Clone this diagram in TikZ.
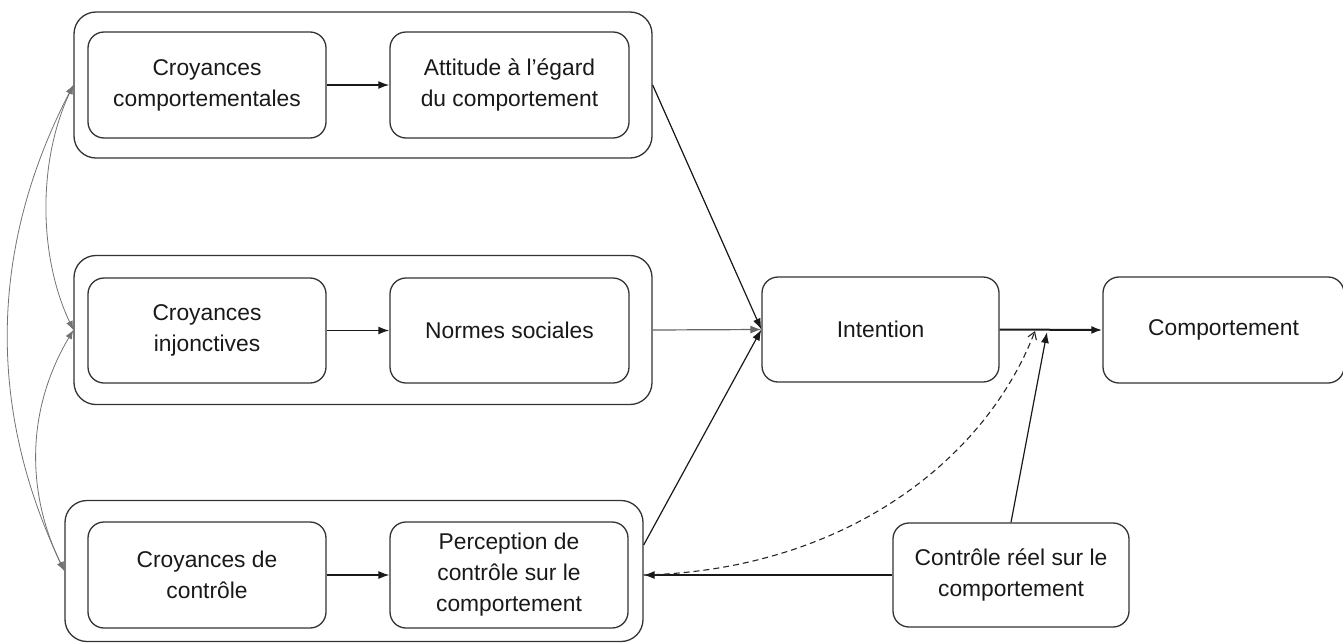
\documentclass[tikz,border=0pt]{standalone}
\usepackage{fontspec}
\setmainfont{Liberation Sans}
\usetikzlibrary{arrows.meta}
\begin{document}
\begin{tikzpicture}[x=1pt,y=-1pt,
  box/.style={draw=black!80, line width=1.3pt, rounded corners=16pt, inner sep=0pt, align=center, text=black!90, font=\fontsize{22.8}{31}\selectfont},
  grp/.style={draw=black!80, line width=1.3pt, rounded corners=22pt, inner sep=0pt},
  arr/.style={-{Latex[length=11pt,width=8pt]}, line width=1.2pt, draw=black!90},
  biarr/.style={{Latex[length=9pt,width=7pt]}-{Latex[length=9pt,width=7pt]}, line width=0.8pt, draw=black!55},
  dasharr/.style={-{Straight Barb[length=7pt,width=9pt]}, dash pattern=on 6pt off 4pt, line width=1.1pt, draw=black!85}]
\useasboundingbox (0,0) rectangle (1343,643);
\clip (0,0) rectangle (1343,643);
% groups
\node[grp, minimum width=578pt, minimum height=146pt] (g1) at (363,85) {};
\node[grp, minimum width=578pt, minimum height=149pt] (g2) at (363,330) {};
\node[grp, minimum width=578pt, minimum height=141pt] (g3) at (354,571) {};
% inner boxes
\node[box, minimum width=238pt, minimum height=106pt] (cc) at (207,85) {Croyances\\comportementales};
\node[box, minimum width=239pt, minimum height=106pt] (att) at (509.5,85) {Attitude à l'égard\\du comportement};
\node[box, minimum width=238pt, minimum height=105pt] (ci) at (207,330.5) {Croyances\\injonctives};
\node[box, minimum width=239pt, minimum height=105pt] (ns) at (509.5,330.5) {Normes sociales};
\node[box, minimum width=238pt, minimum height=106pt] (cd) at (207,575) {Croyances de\\contrôle};
\node[box, minimum width=238pt, minimum height=106pt] (pc) at (509,575) {Perception de\\contrôle sur le\\comportement};
% right side
\node[box, minimum width=237pt, minimum height=105pt] (int) at (880.5,329.5) {Intention};
\node[box, minimum width=241pt, minimum height=106pt] (comp) at (1223.5,330) {Comportement};
\node[box, minimum width=236pt, minimum height=104pt] (crl) at (1011,575) {Contrôle réel sur le\\comportement};
\coordinate (j1) at (1035,331);
\coordinate (j2) at (1047,332);
% connectors
\draw[arr, line width=1.6pt] (cc.east) -- (att.west);
\draw[arr, line width=1.6pt] (ci.east) -- (ns.west);
\draw[arr] (cd.east) -- (pc.west);
\draw[arr] (g1.east) -- (int.west);
\draw[arr, draw=black!60] (g2.east) -- (int.west);
\draw[arr] ([yshift=26pt]g3.east) -- (int.west);
\draw[arr, line width=2pt] (int.east) -- (comp.west);
\draw[arr] (crl.north) -- (j2);
\draw[arr] (crl.west) -- (crl.west -| g3.east);
\draw[dasharr] (crl.west -| g3.east) .. controls +(200,-5) and +(-50,130) .. (j1);
% left arcs
\draw[biarr] (g1.west) .. controls (-12,250) and (-12,410) .. (g3.west);
\draw[biarr] (g1.west) .. controls (38,160) and (38,255) .. (g2.west);
\draw[biarr] (g2.west) .. controls (26,410) and (26,492) .. (g3.west);
\end{tikzpicture}
\end{document}
